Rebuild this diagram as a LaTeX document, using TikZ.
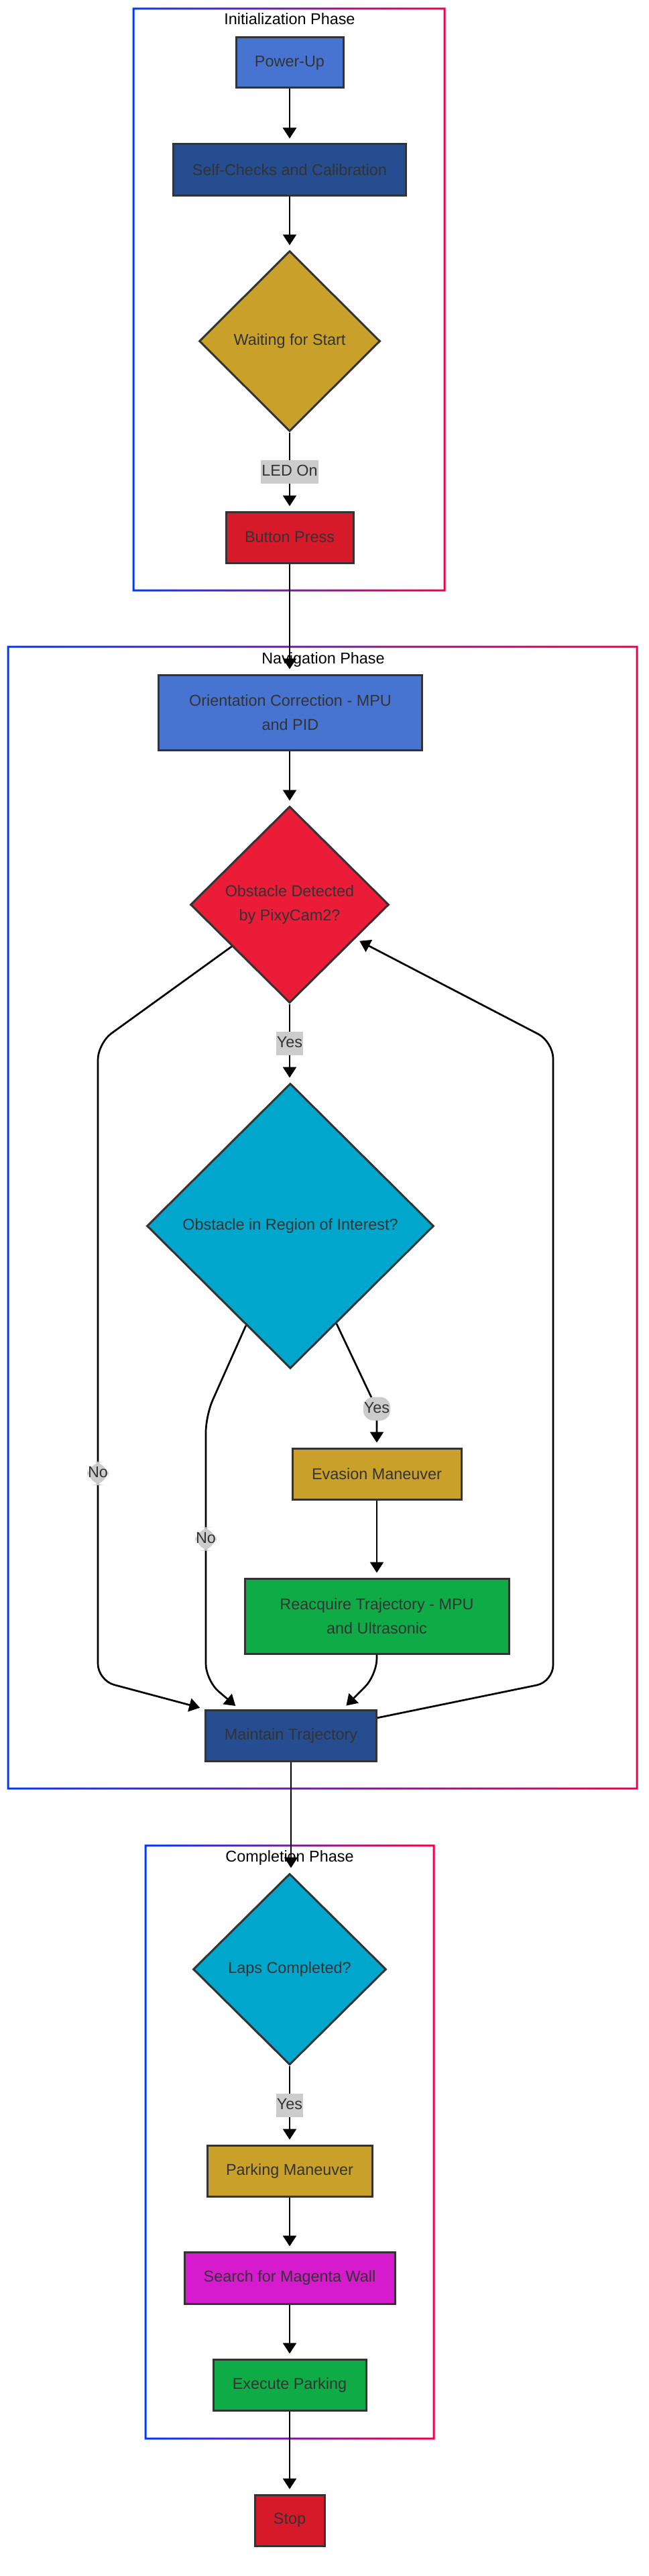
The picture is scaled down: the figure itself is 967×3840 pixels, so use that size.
\documentclass[tikz,border=0pt]{standalone}
\usepackage{fontspec}
\setmainfont{Liberation Sans}
\usetikzlibrary{shapes.geometric,arrows.meta,calc}
\definecolor{cBlue}{HTML}{4874D1}
\definecolor{cDark}{HTML}{264D8F}
\definecolor{cGold}{HTML}{C9A02A}
\definecolor{cRedA}{HTML}{D71A2A}
\definecolor{cRedB}{HTML}{EA1C38}
\definecolor{cCyan}{HTML}{00A6CB}
\definecolor{cGreen}{HTML}{0FAB47}
\definecolor{cMag}{HTML}{D61ACD}
\definecolor{cBorder}{HTML}{333333}
\definecolor{cText}{HTML}{333333}
\definecolor{cLabel}{HTML}{CCCCCC}
\definecolor{fBlue}{HTML}{0038FF}
\definecolor{fRed}{HTML}{F00048}
\newcommand\phaseframe[4]{%
  \shade[left color=fBlue,right color=fRed,even odd rule]
    (#1-1.5,#2-1.5) rectangle (#3+1.5,#4+1.5)
    (#1+1.5,#2+1.5) rectangle (#3-1.5,#4-1.5);}
\begin{document}
\begin{tikzpicture}[x=1pt,y=-1pt,
  every node/.style={font=\fontsize{23.4}{36}\selectfont},
  box/.style={draw=cBorder, line width=3pt, text=cText, inner sep=0pt, align=center},
  dia/.style={box, shape=diamond},
  arr/.style={line width=2.7pt, -{Triangle[length=16pt,width=20pt]}, shorten >=7pt},
  elabel/.style={fill=cLabel, text=cText, inner xsep=1pt, inner ysep=0pt,
    text height=17pt, text depth=5pt, minimum height=35pt},
  ptitle/.style={text=black, text height=17pt, text depth=5pt, inner sep=0pt}
]
\fill[white] (0,0) rectangle (967,3840);
\useasboundingbox (0,0) rectangle (967,3840);

% phase frames
\phaseframe{199}{13}{663}{880}
\phaseframe{12}{964}{950}{2666}
\phaseframe{217}{2751}{647}{3635}

\node[ptitle] (tinit) at (432,31) {Initialization Phase};
\node[ptitle] (tnav) at (482,983) {Navigation Phase};
\node[ptitle] (tcomp) at (432,2769) {Completion Phase};

% nodes
\node[box, fill=cBlue, minimum width=160pt, minimum height=75pt] (power) at (432,93.5) {Power-Up};
\node[box, fill=cDark, minimum width=347pt, minimum height=76pt] (self) at (432,253) {Self-Checks and Calibration};
\node[dia, fill=cGold, minimum width=270pt, minimum height=269pt] (wait) at (432,508.5) {Waiting for Start};
\node[box, fill=cRedA, minimum width=190pt, minimum height=76pt] (button) at (432,801) {Button Press};

\node[box, fill=cBlue, minimum width=393pt, minimum height=112pt] (orient) at (433,1062) {Orientation Correction - MPU\\and PID};
\node[dia, fill=cRedB, minimum width=296pt, minimum height=293pt] (obst) at (432,1348.5) {Obstacle Detected\\by PixyCam2?};
\node[dia, fill=cCyan, minimum width=428pt, minimum height=425pt] (roi) at (433,1827.5) {Obstacle in Region of Interest?};
\node[box, fill=cGold, minimum width=252pt, minimum height=76pt] (evasion) at (562,2197) {Evasion Maneuver};
\node[box, fill=cGreen, minimum width=394pt, minimum height=112pt] (reacq) at (562,2409) {Reacquire Trajectory - MPU\\and Ultrasonic};
\node[box, fill=cDark, minimum width=255pt, minimum height=76pt] (maintain) at (434,2587) {Maintain Trajectory};

\node[dia, fill=cCyan, minimum width=288pt, minimum height=285pt] (laps) at (432,2935.5) {Laps Completed?};
\node[box, fill=cGold, minimum width=246pt, minimum height=76pt] (parking) at (432,3236) {Parking Maneuver};
\node[box, fill=cMag, minimum width=314pt, minimum height=77pt] (search) at (432,3395.5) {Search for Magenta Wall};
\node[box, fill=cGreen, minimum width=228pt, minimum height=76pt] (execute) at (432,3555) {Execute Parking};
\node[box, fill=cRedA, minimum width=104pt, minimum height=76pt] (stop) at (432,3757) {Stop};

% connectors
\draw[arr] (power.south) -- (self.north);
\draw[arr] (self.south) -- (wait.north);
\draw[arr] (wait.south) -- node[elabel]{LED On} (button.north);
\draw[arr] (button.south) -- (button.south |- orient.north);
\draw[arr] (orient.south -| obst.north) -- (obst.north);
\draw[arr] (obst.south) -- node[elabel]{Yes} (obst.south |- roi.north);

\draw[arr, rounded corners=25pt] (obst) -- (146,1555) -- node[elabel, pos=0.675]{No} (146,2505) -- (maintain.north west);
\draw[arr, rounded corners=25pt] (roi) -- (307,2110) -- node[elabel, pos=0.466]{No} (307,2505) -- ($(maintain.north west)!0.2!(maintain.north east)$);
\draw[arr, rounded corners=15pt] (roi) -- (562,2100) node[elabel]{Yes} -- (evasion.north);
\draw[arr] (evasion.south) -- (reacq.north);
\draw[arr, rounded corners=25pt] (reacq.south) -- (562,2497) -- ($(maintain.north west)!0.8!(maintain.north east)$);
\draw[arr, rounded corners=25pt] (maintain) -- (825,2507) -- (825,1553) -- (obst);

\draw[arr] (maintain.south) -- (maintain.south |- laps.north);
\draw[arr] (laps.south) -- node[elabel]{Yes} (parking.north);
\draw[arr] (parking.south) -- (search.north);
\draw[arr] (search.south) -- (execute.north);
\draw[arr] (execute.south) -- (stop.north);
\end{tikzpicture}
\end{document}
